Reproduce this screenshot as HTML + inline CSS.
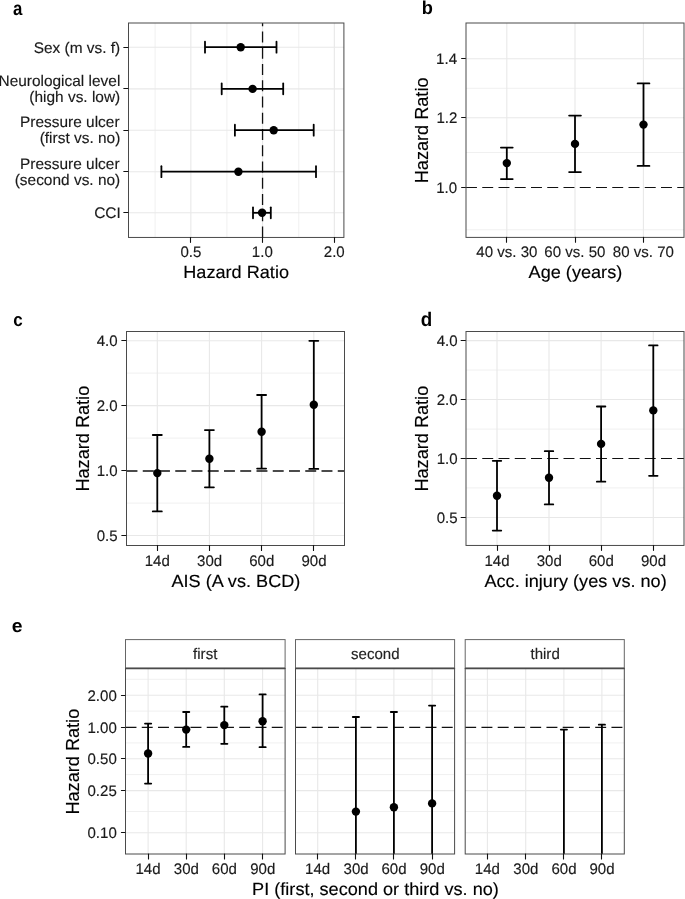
<!DOCTYPE html>
<html><head><meta charset="utf-8"><style>
html,body{margin:0;padding:0;background:#fff;}
svg{display:block;font-family:"Liberation Sans",sans-serif;will-change:transform;}
</style></head><body>
<svg width="685" height="899" viewBox="0 0 685 899">
<rect x="0" y="0" width="685" height="899" fill="#fff"/>
<line x1="155.10" y1="23.00" x2="155.10" y2="237.45" stroke="#f0f0f0" stroke-width="1" stroke-linecap="butt"/>
<line x1="226.90" y1="23.00" x2="226.90" y2="237.45" stroke="#f0f0f0" stroke-width="1" stroke-linecap="butt"/>
<line x1="298.80" y1="23.00" x2="298.80" y2="237.45" stroke="#f0f0f0" stroke-width="1" stroke-linecap="butt"/>
<line x1="190.86" y1="23.00" x2="190.86" y2="237.45" stroke="#e8e8e8" stroke-width="1.1" stroke-linecap="butt"/>
<line x1="262.60" y1="23.00" x2="262.60" y2="237.45" stroke="#e8e8e8" stroke-width="1.1" stroke-linecap="butt"/>
<line x1="334.34" y1="23.00" x2="334.34" y2="237.45" stroke="#e8e8e8" stroke-width="1.1" stroke-linecap="butt"/>
<line x1="128.50" y1="47.20" x2="343.90" y2="47.20" stroke="#e8e8e8" stroke-width="1.1" stroke-linecap="butt"/>
<line x1="128.50" y1="88.90" x2="343.90" y2="88.90" stroke="#e8e8e8" stroke-width="1.1" stroke-linecap="butt"/>
<line x1="128.50" y1="130.20" x2="343.90" y2="130.20" stroke="#e8e8e8" stroke-width="1.1" stroke-linecap="butt"/>
<line x1="128.50" y1="171.70" x2="343.90" y2="171.70" stroke="#e8e8e8" stroke-width="1.1" stroke-linecap="butt"/>
<line x1="128.50" y1="212.80" x2="343.90" y2="212.80" stroke="#e8e8e8" stroke-width="1.1" stroke-linecap="butt"/>
<line x1="262.55" y1="237.45" x2="262.55" y2="23.00" stroke="#111" stroke-width="1.3" stroke-linecap="butt" stroke-dasharray="10.95 5.3"/>
<line x1="205.00" y1="47.20" x2="276.50" y2="47.20" stroke="#000" stroke-width="1.8" stroke-linecap="butt"/>
<line x1="205.00" y1="41.75" x2="205.00" y2="52.65" stroke="#000" stroke-width="1.8" stroke-linecap="round"/>
<line x1="276.50" y1="41.75" x2="276.50" y2="52.65" stroke="#000" stroke-width="1.8" stroke-linecap="round"/>
<circle cx="240.70" cy="47.20" r="4.20" fill="#000"/>
<line x1="221.70" y1="88.90" x2="283.20" y2="88.90" stroke="#000" stroke-width="1.8" stroke-linecap="butt"/>
<line x1="221.70" y1="83.45" x2="221.70" y2="94.35" stroke="#000" stroke-width="1.8" stroke-linecap="round"/>
<line x1="283.20" y1="83.45" x2="283.20" y2="94.35" stroke="#000" stroke-width="1.8" stroke-linecap="round"/>
<circle cx="252.60" cy="88.90" r="4.20" fill="#000"/>
<line x1="234.90" y1="130.20" x2="313.70" y2="130.20" stroke="#000" stroke-width="1.8" stroke-linecap="butt"/>
<line x1="234.90" y1="124.75" x2="234.90" y2="135.65" stroke="#000" stroke-width="1.8" stroke-linecap="round"/>
<line x1="313.70" y1="124.75" x2="313.70" y2="135.65" stroke="#000" stroke-width="1.8" stroke-linecap="round"/>
<circle cx="273.70" cy="130.20" r="4.20" fill="#000"/>
<line x1="161.40" y1="171.70" x2="316.00" y2="171.70" stroke="#000" stroke-width="1.8" stroke-linecap="butt"/>
<line x1="161.40" y1="166.25" x2="161.40" y2="177.15" stroke="#000" stroke-width="1.8" stroke-linecap="round"/>
<line x1="316.00" y1="166.25" x2="316.00" y2="177.15" stroke="#000" stroke-width="1.8" stroke-linecap="round"/>
<circle cx="238.40" cy="171.70" r="4.20" fill="#000"/>
<line x1="253.00" y1="212.80" x2="270.80" y2="212.80" stroke="#000" stroke-width="1.8" stroke-linecap="butt"/>
<line x1="253.00" y1="207.35" x2="253.00" y2="218.25" stroke="#000" stroke-width="1.8" stroke-linecap="round"/>
<line x1="270.80" y1="207.35" x2="270.80" y2="218.25" stroke="#000" stroke-width="1.8" stroke-linecap="round"/>
<circle cx="262.10" cy="212.80" r="4.20" fill="#000"/>
<rect x="128.50" y="23.00" width="215.40" height="214.45" fill="none" stroke="#4a4a4a" stroke-width="1"/>
<line x1="123.80" y1="47.50" x2="127.90" y2="47.50" stroke="#111" stroke-width="1.1" stroke-linecap="round"/>
<line x1="123.80" y1="88.50" x2="127.90" y2="88.50" stroke="#111" stroke-width="1.1" stroke-linecap="round"/>
<line x1="123.80" y1="130.50" x2="127.90" y2="130.50" stroke="#111" stroke-width="1.1" stroke-linecap="round"/>
<line x1="123.80" y1="171.50" x2="127.90" y2="171.50" stroke="#111" stroke-width="1.1" stroke-linecap="round"/>
<line x1="123.80" y1="212.50" x2="127.90" y2="212.50" stroke="#111" stroke-width="1.1" stroke-linecap="round"/>
<line x1="190.50" y1="237.45" x2="190.50" y2="242.35" stroke="#111" stroke-width="1.1" stroke-linecap="round"/>
<line x1="262.50" y1="237.45" x2="262.50" y2="242.35" stroke="#111" stroke-width="1.1" stroke-linecap="round"/>
<line x1="334.50" y1="237.45" x2="334.50" y2="242.35" stroke="#111" stroke-width="1.1" stroke-linecap="round"/>
<text transform="translate(180.39,257.40) scale(0.9850,1) skewX(0.05)" font-size="15.3" fill="#1a1a1a" stroke="#1a1a1a" stroke-width="0.15">0.5</text>
<text transform="translate(251.86,257.40) scale(0.9850,1) skewX(0.05)" font-size="15.3" fill="#1a1a1a" stroke="#1a1a1a" stroke-width="0.15">1.0</text>
<text transform="translate(323.79,257.40) scale(0.9850,1) skewX(0.05)" font-size="15.3" fill="#1a1a1a" stroke="#1a1a1a" stroke-width="0.15">2.0</text>
<text transform="translate(183.25,277.60) scale(1.0300,1) skewX(0.05)" font-size="17.6" fill="#000" stroke="#000" stroke-width="0.15">Hazard Ratio</text>
<text transform="translate(33.64,52.60) scale(1.0100,1) skewX(0.05)" font-size="15.3" fill="#1a1a1a" stroke="#1a1a1a" stroke-width="0.15">Sex (m vs. f)</text>
<text transform="translate(-1.52,85.80) scale(1.0100,1) skewX(0.05)" font-size="15.3" fill="#1a1a1a" stroke="#1a1a1a" stroke-width="0.15">Neurological level</text>
<text transform="translate(29.31,101.60) scale(1.0100,1) skewX(0.05)" font-size="15.3" fill="#1a1a1a" stroke="#1a1a1a" stroke-width="0.15">(high vs. low)</text>
<text transform="translate(20.04,127.00) scale(1.0100,1) skewX(0.05)" font-size="15.3" fill="#1a1a1a" stroke="#1a1a1a" stroke-width="0.15">Pressure ulcer</text>
<text transform="translate(39.66,142.90) scale(1.0100,1) skewX(0.05)" font-size="15.3" fill="#1a1a1a" stroke="#1a1a1a" stroke-width="0.15">(first vs. no)</text>
<text transform="translate(20.04,168.60) scale(1.0100,1) skewX(0.05)" font-size="15.3" fill="#1a1a1a" stroke="#1a1a1a" stroke-width="0.15">Pressure ulcer</text>
<text transform="translate(14.71,184.60) scale(1.0100,1) skewX(0.05)" font-size="15.3" fill="#1a1a1a" stroke="#1a1a1a" stroke-width="0.15">(second vs. no)</text>
<text transform="translate(94.21,218.10) scale(1.0100,1) skewX(0.05)" font-size="15.3" fill="#1a1a1a" stroke="#1a1a1a" stroke-width="0.15">CCI</text>
<text transform="translate(13.09,14.60) scale(0.8600,1) skewX(0.05)" font-size="19.6" font-weight="bold" fill="#000">a</text>
<line x1="466.00" y1="88.30" x2="684.00" y2="88.30" stroke="#f0f0f0" stroke-width="1" stroke-linecap="butt"/>
<line x1="466.00" y1="152.50" x2="684.00" y2="152.50" stroke="#f0f0f0" stroke-width="1" stroke-linecap="butt"/>
<line x1="466.00" y1="229.80" x2="684.00" y2="229.80" stroke="#f0f0f0" stroke-width="1" stroke-linecap="butt"/>
<line x1="466.00" y1="117.72" x2="684.00" y2="117.72" stroke="#e8e8e8" stroke-width="1.1" stroke-linecap="butt"/>
<line x1="466.00" y1="58.80" x2="684.00" y2="58.80" stroke="#e8e8e8" stroke-width="1.1" stroke-linecap="butt"/>
<line x1="506.80" y1="23.00" x2="506.80" y2="237.40" stroke="#e8e8e8" stroke-width="1.1" stroke-linecap="butt"/>
<line x1="575.00" y1="23.00" x2="575.00" y2="237.40" stroke="#e8e8e8" stroke-width="1.1" stroke-linecap="butt"/>
<line x1="643.40" y1="23.00" x2="643.40" y2="237.40" stroke="#e8e8e8" stroke-width="1.1" stroke-linecap="butt"/>
<line x1="466.00" y1="187.50" x2="684.00" y2="187.50" stroke="#111" stroke-width="1.1" stroke-linecap="butt" stroke-dasharray="10.95 5.3"/>
<line x1="506.80" y1="147.60" x2="506.80" y2="179.10" stroke="#000" stroke-width="1.8" stroke-linecap="butt"/>
<line x1="500.90" y1="147.60" x2="512.70" y2="147.60" stroke="#000" stroke-width="1.8" stroke-linecap="round"/>
<line x1="500.90" y1="179.10" x2="512.70" y2="179.10" stroke="#000" stroke-width="1.8" stroke-linecap="round"/>
<circle cx="506.80" cy="163.10" r="4.20" fill="#000"/>
<line x1="575.00" y1="115.60" x2="575.00" y2="172.10" stroke="#000" stroke-width="1.8" stroke-linecap="butt"/>
<line x1="569.10" y1="115.60" x2="580.90" y2="115.60" stroke="#000" stroke-width="1.8" stroke-linecap="round"/>
<line x1="569.10" y1="172.10" x2="580.90" y2="172.10" stroke="#000" stroke-width="1.8" stroke-linecap="round"/>
<circle cx="575.00" cy="143.90" r="4.20" fill="#000"/>
<line x1="643.50" y1="83.40" x2="643.50" y2="165.90" stroke="#000" stroke-width="1.8" stroke-linecap="butt"/>
<line x1="637.60" y1="83.40" x2="649.40" y2="83.40" stroke="#000" stroke-width="1.8" stroke-linecap="round"/>
<line x1="637.60" y1="165.90" x2="649.40" y2="165.90" stroke="#000" stroke-width="1.8" stroke-linecap="round"/>
<circle cx="643.50" cy="124.60" r="4.20" fill="#000"/>
<rect x="466.00" y="23.00" width="218.00" height="214.40" fill="none" stroke="#4a4a4a" stroke-width="1"/>
<line x1="461.60" y1="187.50" x2="465.40" y2="187.50" stroke="#111" stroke-width="1.1" stroke-linecap="round"/>
<line x1="461.60" y1="117.50" x2="465.40" y2="117.50" stroke="#111" stroke-width="1.1" stroke-linecap="round"/>
<line x1="461.60" y1="58.50" x2="465.40" y2="58.50" stroke="#111" stroke-width="1.1" stroke-linecap="round"/>
<line x1="506.50" y1="237.40" x2="506.50" y2="242.30" stroke="#111" stroke-width="1.1" stroke-linecap="round"/>
<line x1="575.50" y1="237.40" x2="575.50" y2="242.30" stroke="#111" stroke-width="1.1" stroke-linecap="round"/>
<line x1="643.50" y1="237.40" x2="643.50" y2="242.30" stroke="#111" stroke-width="1.1" stroke-linecap="round"/>
<text transform="translate(436.25,193.00) scale(0.9850,1) skewX(0.05)" font-size="15.3" fill="#1a1a1a" stroke="#1a1a1a" stroke-width="0.15">1.0</text>
<text transform="translate(436.41,123.32) scale(0.9850,1) skewX(0.05)" font-size="15.3" fill="#1a1a1a" stroke="#1a1a1a" stroke-width="0.15">1.2</text>
<text transform="translate(436.10,64.40) scale(0.9850,1) skewX(0.05)" font-size="15.3" fill="#1a1a1a" stroke="#1a1a1a" stroke-width="0.15">1.4</text>
<text transform="translate(476.36,257.30) scale(0.9850,1) skewX(0.05)" font-size="15.3" fill="#1a1a1a" stroke="#1a1a1a" stroke-width="0.15">40 vs. 30</text>
<text transform="translate(544.37,257.30) scale(0.9850,1) skewX(0.05)" font-size="15.3" fill="#1a1a1a" stroke="#1a1a1a" stroke-width="0.15">60 vs. 50</text>
<text transform="translate(612.81,257.30) scale(0.9850,1) skewX(0.05)" font-size="15.3" fill="#1a1a1a" stroke="#1a1a1a" stroke-width="0.15">80 vs. 70</text>
<text transform="translate(528.58,277.60) scale(1.0300,1) skewX(0.05)" font-size="17.6" fill="#000" stroke="#000" stroke-width="0.15">Age (years)</text>
<text transform="translate(428.00,183.25) rotate(-90) scale(1.0300,1)" font-size="17.6" fill="#000" stroke="#000" stroke-width="0.15">Hazard Ratio</text>
<text transform="translate(421.82,14.40) scale(0.9800,1) skewX(0.05)" font-size="18.6" font-weight="bold" fill="#000">b</text>
<line x1="126.50" y1="373.10" x2="344.50" y2="373.10" stroke="#f0f0f0" stroke-width="1" stroke-linecap="butt"/>
<line x1="126.50" y1="438.10" x2="344.50" y2="438.10" stroke="#f0f0f0" stroke-width="1" stroke-linecap="butt"/>
<line x1="126.50" y1="503.10" x2="344.50" y2="503.10" stroke="#f0f0f0" stroke-width="1" stroke-linecap="butt"/>
<line x1="126.50" y1="535.53" x2="344.50" y2="535.53" stroke="#e8e8e8" stroke-width="1.1" stroke-linecap="butt"/>
<line x1="126.50" y1="405.67" x2="344.50" y2="405.67" stroke="#e8e8e8" stroke-width="1.1" stroke-linecap="butt"/>
<line x1="126.50" y1="340.74" x2="344.50" y2="340.74" stroke="#e8e8e8" stroke-width="1.1" stroke-linecap="butt"/>
<line x1="157.30" y1="331.50" x2="157.30" y2="545.50" stroke="#e8e8e8" stroke-width="1.1" stroke-linecap="butt"/>
<line x1="209.40" y1="331.50" x2="209.40" y2="545.50" stroke="#e8e8e8" stroke-width="1.1" stroke-linecap="butt"/>
<line x1="261.60" y1="331.50" x2="261.60" y2="545.50" stroke="#e8e8e8" stroke-width="1.1" stroke-linecap="butt"/>
<line x1="313.80" y1="331.50" x2="313.80" y2="545.50" stroke="#e8e8e8" stroke-width="1.1" stroke-linecap="butt"/>
<line x1="126.50" y1="471.00" x2="344.50" y2="471.00" stroke="#111" stroke-width="1.5" stroke-linecap="butt" stroke-dasharray="10.95 5.3"/>
<line x1="157.30" y1="435.00" x2="157.30" y2="511.40" stroke="#000" stroke-width="1.8" stroke-linecap="butt"/>
<line x1="152.80" y1="435.00" x2="161.80" y2="435.00" stroke="#000" stroke-width="1.8" stroke-linecap="round"/>
<line x1="152.80" y1="511.40" x2="161.80" y2="511.40" stroke="#000" stroke-width="1.8" stroke-linecap="round"/>
<circle cx="157.30" cy="473.10" r="4.20" fill="#000"/>
<line x1="209.40" y1="430.10" x2="209.40" y2="487.30" stroke="#000" stroke-width="1.8" stroke-linecap="butt"/>
<line x1="204.90" y1="430.10" x2="213.90" y2="430.10" stroke="#000" stroke-width="1.8" stroke-linecap="round"/>
<line x1="204.90" y1="487.30" x2="213.90" y2="487.30" stroke="#000" stroke-width="1.8" stroke-linecap="round"/>
<circle cx="209.40" cy="458.70" r="4.20" fill="#000"/>
<line x1="261.60" y1="395.00" x2="261.60" y2="468.60" stroke="#000" stroke-width="1.8" stroke-linecap="butt"/>
<line x1="257.10" y1="395.00" x2="266.10" y2="395.00" stroke="#000" stroke-width="1.8" stroke-linecap="round"/>
<line x1="257.10" y1="468.60" x2="266.10" y2="468.60" stroke="#000" stroke-width="1.8" stroke-linecap="round"/>
<circle cx="261.60" cy="431.80" r="4.20" fill="#000"/>
<line x1="313.80" y1="340.80" x2="313.80" y2="468.90" stroke="#000" stroke-width="1.8" stroke-linecap="butt"/>
<line x1="309.30" y1="340.80" x2="318.30" y2="340.80" stroke="#000" stroke-width="1.8" stroke-linecap="round"/>
<line x1="309.30" y1="468.90" x2="318.30" y2="468.90" stroke="#000" stroke-width="1.8" stroke-linecap="round"/>
<circle cx="313.80" cy="404.80" r="4.20" fill="#000"/>
<rect x="126.50" y="331.50" width="218.00" height="214.00" fill="none" stroke="#4a4a4a" stroke-width="1"/>
<line x1="121.80" y1="535.50" x2="125.90" y2="535.50" stroke="#111" stroke-width="1.1" stroke-linecap="round"/>
<line x1="121.80" y1="470.50" x2="125.90" y2="470.50" stroke="#111" stroke-width="1.1" stroke-linecap="round"/>
<line x1="121.80" y1="405.50" x2="125.90" y2="405.50" stroke="#111" stroke-width="1.1" stroke-linecap="round"/>
<line x1="121.80" y1="340.50" x2="125.90" y2="340.50" stroke="#111" stroke-width="1.1" stroke-linecap="round"/>
<line x1="157.50" y1="545.50" x2="157.50" y2="550.40" stroke="#111" stroke-width="1.1" stroke-linecap="round"/>
<line x1="209.50" y1="545.50" x2="209.50" y2="550.40" stroke="#111" stroke-width="1.1" stroke-linecap="round"/>
<line x1="261.50" y1="545.50" x2="261.50" y2="550.40" stroke="#111" stroke-width="1.1" stroke-linecap="round"/>
<line x1="313.50" y1="545.50" x2="313.50" y2="550.40" stroke="#111" stroke-width="1.1" stroke-linecap="round"/>
<text transform="translate(96.65,541.03) scale(0.9850,1) skewX(0.05)" font-size="15.3" fill="#1a1a1a" stroke="#1a1a1a" stroke-width="0.15">0.5</text>
<text transform="translate(96.65,476.10) scale(0.9850,1) skewX(0.05)" font-size="15.3" fill="#1a1a1a" stroke="#1a1a1a" stroke-width="0.15">1.0</text>
<text transform="translate(96.65,411.17) scale(0.9850,1) skewX(0.05)" font-size="15.3" fill="#1a1a1a" stroke="#1a1a1a" stroke-width="0.15">2.0</text>
<text transform="translate(96.65,346.24) scale(0.9850,1) skewX(0.05)" font-size="15.3" fill="#1a1a1a" stroke="#1a1a1a" stroke-width="0.15">4.0</text>
<text transform="translate(144.68,565.80) scale(0.9850,1) skewX(0.05)" font-size="15.3" fill="#1a1a1a" stroke="#1a1a1a" stroke-width="0.15">14d</text>
<text transform="translate(197.04,565.80) scale(0.9850,1) skewX(0.05)" font-size="15.3" fill="#1a1a1a" stroke="#1a1a1a" stroke-width="0.15">30d</text>
<text transform="translate(249.17,565.80) scale(0.9850,1) skewX(0.05)" font-size="15.3" fill="#1a1a1a" stroke="#1a1a1a" stroke-width="0.15">60d</text>
<text transform="translate(301.40,565.80) scale(0.9850,1) skewX(0.05)" font-size="15.3" fill="#1a1a1a" stroke="#1a1a1a" stroke-width="0.15">90d</text>
<text transform="translate(171.45,586.60) scale(1.0300,1) skewX(0.05)" font-size="17.6" fill="#000" stroke="#000" stroke-width="0.15">AIS (A vs. BCD)</text>
<text transform="translate(88.50,491.55) rotate(-90) scale(1.0300,1)" font-size="17.6" fill="#000" stroke="#000" stroke-width="0.15">Hazard Ratio</text>
<text transform="translate(13.32,326.00) scale(0.9200,1) skewX(0.05)" font-size="18.5" font-weight="bold" fill="#000">c</text>
<line x1="466.00" y1="370.00" x2="684.00" y2="370.00" stroke="#f0f0f0" stroke-width="1" stroke-linecap="butt"/>
<line x1="466.00" y1="429.10" x2="684.00" y2="429.10" stroke="#f0f0f0" stroke-width="1" stroke-linecap="butt"/>
<line x1="466.00" y1="487.90" x2="684.00" y2="487.90" stroke="#f0f0f0" stroke-width="1" stroke-linecap="butt"/>
<line x1="466.00" y1="517.43" x2="684.00" y2="517.43" stroke="#e8e8e8" stroke-width="1.1" stroke-linecap="butt"/>
<line x1="466.00" y1="399.57" x2="684.00" y2="399.57" stroke="#e8e8e8" stroke-width="1.1" stroke-linecap="butt"/>
<line x1="466.00" y1="340.64" x2="684.00" y2="340.64" stroke="#e8e8e8" stroke-width="1.1" stroke-linecap="butt"/>
<line x1="497.00" y1="331.50" x2="497.00" y2="545.45" stroke="#e8e8e8" stroke-width="1.1" stroke-linecap="butt"/>
<line x1="549.00" y1="331.50" x2="549.00" y2="545.45" stroke="#e8e8e8" stroke-width="1.1" stroke-linecap="butt"/>
<line x1="601.10" y1="331.50" x2="601.10" y2="545.45" stroke="#e8e8e8" stroke-width="1.1" stroke-linecap="butt"/>
<line x1="653.30" y1="331.50" x2="653.30" y2="545.45" stroke="#e8e8e8" stroke-width="1.1" stroke-linecap="butt"/>
<line x1="466.00" y1="458.50" x2="684.00" y2="458.50" stroke="#111" stroke-width="1.1" stroke-linecap="butt" stroke-dasharray="10.95 5.3"/>
<line x1="497.00" y1="460.80" x2="497.00" y2="530.60" stroke="#000" stroke-width="1.8" stroke-linecap="butt"/>
<line x1="492.75" y1="460.80" x2="501.25" y2="460.80" stroke="#000" stroke-width="1.8" stroke-linecap="round"/>
<line x1="492.75" y1="530.60" x2="501.25" y2="530.60" stroke="#000" stroke-width="1.8" stroke-linecap="round"/>
<circle cx="497.00" cy="495.80" r="4.20" fill="#000"/>
<line x1="549.00" y1="451.20" x2="549.00" y2="504.40" stroke="#000" stroke-width="1.8" stroke-linecap="butt"/>
<line x1="544.75" y1="451.20" x2="553.25" y2="451.20" stroke="#000" stroke-width="1.8" stroke-linecap="round"/>
<line x1="544.75" y1="504.40" x2="553.25" y2="504.40" stroke="#000" stroke-width="1.8" stroke-linecap="round"/>
<circle cx="549.00" cy="477.80" r="4.20" fill="#000"/>
<line x1="601.10" y1="406.50" x2="601.10" y2="481.70" stroke="#000" stroke-width="1.8" stroke-linecap="butt"/>
<line x1="596.85" y1="406.50" x2="605.35" y2="406.50" stroke="#000" stroke-width="1.8" stroke-linecap="round"/>
<line x1="596.85" y1="481.70" x2="605.35" y2="481.70" stroke="#000" stroke-width="1.8" stroke-linecap="round"/>
<circle cx="601.10" cy="443.90" r="4.20" fill="#000"/>
<line x1="653.30" y1="345.40" x2="653.30" y2="475.80" stroke="#000" stroke-width="1.8" stroke-linecap="butt"/>
<line x1="649.05" y1="345.40" x2="657.55" y2="345.40" stroke="#000" stroke-width="1.8" stroke-linecap="round"/>
<line x1="649.05" y1="475.80" x2="657.55" y2="475.80" stroke="#000" stroke-width="1.8" stroke-linecap="round"/>
<circle cx="653.30" cy="410.40" r="4.20" fill="#000"/>
<rect x="466.00" y="331.50" width="218.00" height="213.95" fill="none" stroke="#4a4a4a" stroke-width="1"/>
<line x1="461.10" y1="517.50" x2="465.40" y2="517.50" stroke="#111" stroke-width="1.1" stroke-linecap="round"/>
<line x1="461.10" y1="458.50" x2="465.40" y2="458.50" stroke="#111" stroke-width="1.1" stroke-linecap="round"/>
<line x1="461.10" y1="399.50" x2="465.40" y2="399.50" stroke="#111" stroke-width="1.1" stroke-linecap="round"/>
<line x1="461.10" y1="340.50" x2="465.40" y2="340.50" stroke="#111" stroke-width="1.1" stroke-linecap="round"/>
<line x1="497.50" y1="545.45" x2="497.50" y2="550.35" stroke="#111" stroke-width="1.1" stroke-linecap="round"/>
<line x1="549.50" y1="545.45" x2="549.50" y2="550.35" stroke="#111" stroke-width="1.1" stroke-linecap="round"/>
<line x1="601.50" y1="545.45" x2="601.50" y2="550.35" stroke="#111" stroke-width="1.1" stroke-linecap="round"/>
<line x1="653.50" y1="545.45" x2="653.50" y2="550.35" stroke="#111" stroke-width="1.1" stroke-linecap="round"/>
<text transform="translate(436.65,522.93) scale(0.9850,1) skewX(0.05)" font-size="15.3" fill="#1a1a1a" stroke="#1a1a1a" stroke-width="0.15">0.5</text>
<text transform="translate(436.65,464.00) scale(0.9850,1) skewX(0.05)" font-size="15.3" fill="#1a1a1a" stroke="#1a1a1a" stroke-width="0.15">1.0</text>
<text transform="translate(436.65,405.07) scale(0.9850,1) skewX(0.05)" font-size="15.3" fill="#1a1a1a" stroke="#1a1a1a" stroke-width="0.15">2.0</text>
<text transform="translate(436.65,346.14) scale(0.9850,1) skewX(0.05)" font-size="15.3" fill="#1a1a1a" stroke="#1a1a1a" stroke-width="0.15">4.0</text>
<text transform="translate(484.38,565.70) scale(0.9850,1) skewX(0.05)" font-size="15.3" fill="#1a1a1a" stroke="#1a1a1a" stroke-width="0.15">14d</text>
<text transform="translate(536.64,565.70) scale(0.9850,1) skewX(0.05)" font-size="15.3" fill="#1a1a1a" stroke="#1a1a1a" stroke-width="0.15">30d</text>
<text transform="translate(588.67,565.70) scale(0.9850,1) skewX(0.05)" font-size="15.3" fill="#1a1a1a" stroke="#1a1a1a" stroke-width="0.15">60d</text>
<text transform="translate(640.90,565.70) scale(0.9850,1) skewX(0.05)" font-size="15.3" fill="#1a1a1a" stroke="#1a1a1a" stroke-width="0.15">90d</text>
<text transform="translate(484.46,586.50) scale(1.0300,1) skewX(0.05)" font-size="17.6" fill="#000" stroke="#000" stroke-width="0.15">Acc. injury (yes vs. no)</text>
<text transform="translate(428.00,491.55) rotate(-90) scale(1.0300,1)" font-size="17.6" fill="#000" stroke="#000" stroke-width="0.15">Hazard Ratio</text>
<text transform="translate(420.65,326.00) scale(0.9500,1) skewX(0.05)" font-size="19.8" font-weight="bold" fill="#000">d</text>
<line x1="125.50" y1="679.30" x2="285.10" y2="679.30" stroke="#f0f0f0" stroke-width="1" stroke-linecap="butt"/>
<line x1="125.50" y1="711.10" x2="285.10" y2="711.10" stroke="#f0f0f0" stroke-width="1" stroke-linecap="butt"/>
<line x1="125.50" y1="742.90" x2="285.10" y2="742.90" stroke="#f0f0f0" stroke-width="1" stroke-linecap="butt"/>
<line x1="125.50" y1="774.60" x2="285.10" y2="774.60" stroke="#f0f0f0" stroke-width="1" stroke-linecap="butt"/>
<line x1="125.50" y1="811.50" x2="285.10" y2="811.50" stroke="#f0f0f0" stroke-width="1" stroke-linecap="butt"/>
<line x1="125.50" y1="832.69" x2="285.10" y2="832.69" stroke="#e8e8e8" stroke-width="1.1" stroke-linecap="butt"/>
<line x1="125.50" y1="790.63" x2="285.10" y2="790.63" stroke="#e8e8e8" stroke-width="1.1" stroke-linecap="butt"/>
<line x1="125.50" y1="758.82" x2="285.10" y2="758.82" stroke="#e8e8e8" stroke-width="1.1" stroke-linecap="butt"/>
<line x1="125.50" y1="695.18" x2="285.10" y2="695.18" stroke="#e8e8e8" stroke-width="1.1" stroke-linecap="butt"/>
<line x1="148.10" y1="668.45" x2="148.10" y2="854.00" stroke="#e8e8e8" stroke-width="1.1" stroke-linecap="butt"/>
<line x1="186.20" y1="668.45" x2="186.20" y2="854.00" stroke="#e8e8e8" stroke-width="1.1" stroke-linecap="butt"/>
<line x1="224.30" y1="668.45" x2="224.30" y2="854.00" stroke="#e8e8e8" stroke-width="1.1" stroke-linecap="butt"/>
<line x1="262.60" y1="668.45" x2="262.60" y2="854.00" stroke="#e8e8e8" stroke-width="1.1" stroke-linecap="butt"/>
<line x1="125.50" y1="727.35" x2="285.10" y2="727.35" stroke="#111" stroke-width="1.3" stroke-linecap="butt" stroke-dasharray="10.95 5.3"/>
<line x1="295.50" y1="679.30" x2="454.60" y2="679.30" stroke="#f0f0f0" stroke-width="1" stroke-linecap="butt"/>
<line x1="295.50" y1="711.10" x2="454.60" y2="711.10" stroke="#f0f0f0" stroke-width="1" stroke-linecap="butt"/>
<line x1="295.50" y1="742.90" x2="454.60" y2="742.90" stroke="#f0f0f0" stroke-width="1" stroke-linecap="butt"/>
<line x1="295.50" y1="774.60" x2="454.60" y2="774.60" stroke="#f0f0f0" stroke-width="1" stroke-linecap="butt"/>
<line x1="295.50" y1="811.50" x2="454.60" y2="811.50" stroke="#f0f0f0" stroke-width="1" stroke-linecap="butt"/>
<line x1="295.50" y1="832.69" x2="454.60" y2="832.69" stroke="#e8e8e8" stroke-width="1.1" stroke-linecap="butt"/>
<line x1="295.50" y1="790.63" x2="454.60" y2="790.63" stroke="#e8e8e8" stroke-width="1.1" stroke-linecap="butt"/>
<line x1="295.50" y1="758.82" x2="454.60" y2="758.82" stroke="#e8e8e8" stroke-width="1.1" stroke-linecap="butt"/>
<line x1="295.50" y1="695.18" x2="454.60" y2="695.18" stroke="#e8e8e8" stroke-width="1.1" stroke-linecap="butt"/>
<line x1="317.70" y1="668.45" x2="317.70" y2="854.00" stroke="#e8e8e8" stroke-width="1.1" stroke-linecap="butt"/>
<line x1="355.90" y1="668.45" x2="355.90" y2="854.00" stroke="#e8e8e8" stroke-width="1.1" stroke-linecap="butt"/>
<line x1="393.90" y1="668.45" x2="393.90" y2="854.00" stroke="#e8e8e8" stroke-width="1.1" stroke-linecap="butt"/>
<line x1="432.10" y1="668.45" x2="432.10" y2="854.00" stroke="#e8e8e8" stroke-width="1.1" stroke-linecap="butt"/>
<line x1="295.50" y1="727.35" x2="454.60" y2="727.35" stroke="#111" stroke-width="1.3" stroke-linecap="butt" stroke-dasharray="10.95 5.3"/>
<line x1="465.20" y1="679.30" x2="624.30" y2="679.30" stroke="#f0f0f0" stroke-width="1" stroke-linecap="butt"/>
<line x1="465.20" y1="711.10" x2="624.30" y2="711.10" stroke="#f0f0f0" stroke-width="1" stroke-linecap="butt"/>
<line x1="465.20" y1="742.90" x2="624.30" y2="742.90" stroke="#f0f0f0" stroke-width="1" stroke-linecap="butt"/>
<line x1="465.20" y1="774.60" x2="624.30" y2="774.60" stroke="#f0f0f0" stroke-width="1" stroke-linecap="butt"/>
<line x1="465.20" y1="811.50" x2="624.30" y2="811.50" stroke="#f0f0f0" stroke-width="1" stroke-linecap="butt"/>
<line x1="465.20" y1="832.69" x2="624.30" y2="832.69" stroke="#e8e8e8" stroke-width="1.1" stroke-linecap="butt"/>
<line x1="465.20" y1="790.63" x2="624.30" y2="790.63" stroke="#e8e8e8" stroke-width="1.1" stroke-linecap="butt"/>
<line x1="465.20" y1="758.82" x2="624.30" y2="758.82" stroke="#e8e8e8" stroke-width="1.1" stroke-linecap="butt"/>
<line x1="465.20" y1="695.18" x2="624.30" y2="695.18" stroke="#e8e8e8" stroke-width="1.1" stroke-linecap="butt"/>
<line x1="487.40" y1="668.45" x2="487.40" y2="854.00" stroke="#e8e8e8" stroke-width="1.1" stroke-linecap="butt"/>
<line x1="525.70" y1="668.45" x2="525.70" y2="854.00" stroke="#e8e8e8" stroke-width="1.1" stroke-linecap="butt"/>
<line x1="563.90" y1="668.45" x2="563.90" y2="854.00" stroke="#e8e8e8" stroke-width="1.1" stroke-linecap="butt"/>
<line x1="601.90" y1="668.45" x2="601.90" y2="854.00" stroke="#e8e8e8" stroke-width="1.1" stroke-linecap="butt"/>
<line x1="465.20" y1="727.35" x2="624.30" y2="727.35" stroke="#111" stroke-width="1.3" stroke-linecap="butt" stroke-dasharray="10.95 5.3"/>
<line x1="148.10" y1="723.60" x2="148.10" y2="783.60" stroke="#000" stroke-width="1.8" stroke-linecap="butt"/>
<line x1="145.00" y1="723.60" x2="151.20" y2="723.60" stroke="#000" stroke-width="1.8" stroke-linecap="round"/>
<line x1="145.00" y1="783.60" x2="151.20" y2="783.60" stroke="#000" stroke-width="1.8" stroke-linecap="round"/>
<circle cx="148.10" cy="753.50" r="4.20" fill="#000"/>
<line x1="186.20" y1="712.00" x2="186.20" y2="746.90" stroke="#000" stroke-width="1.8" stroke-linecap="butt"/>
<line x1="183.10" y1="712.00" x2="189.30" y2="712.00" stroke="#000" stroke-width="1.8" stroke-linecap="round"/>
<line x1="183.10" y1="746.90" x2="189.30" y2="746.90" stroke="#000" stroke-width="1.8" stroke-linecap="round"/>
<circle cx="186.20" cy="729.60" r="4.20" fill="#000"/>
<line x1="224.30" y1="706.70" x2="224.30" y2="743.80" stroke="#000" stroke-width="1.8" stroke-linecap="butt"/>
<line x1="221.20" y1="706.70" x2="227.40" y2="706.70" stroke="#000" stroke-width="1.8" stroke-linecap="round"/>
<line x1="221.20" y1="743.80" x2="227.40" y2="743.80" stroke="#000" stroke-width="1.8" stroke-linecap="round"/>
<circle cx="224.30" cy="725.10" r="4.20" fill="#000"/>
<line x1="262.60" y1="694.40" x2="262.60" y2="747.20" stroke="#000" stroke-width="1.8" stroke-linecap="butt"/>
<line x1="259.50" y1="694.40" x2="265.70" y2="694.40" stroke="#000" stroke-width="1.8" stroke-linecap="round"/>
<line x1="259.50" y1="747.20" x2="265.70" y2="747.20" stroke="#000" stroke-width="1.8" stroke-linecap="round"/>
<circle cx="262.60" cy="721.20" r="4.20" fill="#000"/>
<line x1="355.90" y1="717.00" x2="355.90" y2="854.00" stroke="#000" stroke-width="1.8" stroke-linecap="butt"/>
<line x1="352.80" y1="717.00" x2="359.00" y2="717.00" stroke="#000" stroke-width="1.8" stroke-linecap="round"/>
<circle cx="355.90" cy="811.60" r="4.20" fill="#000"/>
<line x1="393.90" y1="712.00" x2="393.90" y2="854.00" stroke="#000" stroke-width="1.8" stroke-linecap="butt"/>
<line x1="390.80" y1="712.00" x2="397.00" y2="712.00" stroke="#000" stroke-width="1.8" stroke-linecap="round"/>
<circle cx="393.90" cy="807.20" r="4.20" fill="#000"/>
<line x1="432.10" y1="705.60" x2="432.10" y2="854.00" stroke="#000" stroke-width="1.8" stroke-linecap="butt"/>
<line x1="429.00" y1="705.60" x2="435.20" y2="705.60" stroke="#000" stroke-width="1.8" stroke-linecap="round"/>
<circle cx="432.10" cy="803.40" r="4.20" fill="#000"/>
<line x1="563.90" y1="729.60" x2="563.90" y2="854.00" stroke="#000" stroke-width="1.8" stroke-linecap="butt"/>
<line x1="560.80" y1="729.60" x2="567.00" y2="729.60" stroke="#000" stroke-width="1.8" stroke-linecap="round"/>
<line x1="601.90" y1="724.70" x2="601.90" y2="854.00" stroke="#000" stroke-width="1.8" stroke-linecap="butt"/>
<line x1="598.80" y1="724.70" x2="605.00" y2="724.70" stroke="#000" stroke-width="1.8" stroke-linecap="round"/>
<rect x="125.50" y="639.60" width="159.60" height="28.85" fill="#fff" stroke="#666" stroke-width="1"/>
<rect x="125.50" y="668.45" width="159.60" height="185.55" fill="none" stroke="#4a4a4a" stroke-width="1"/>
<line x1="125.50" y1="668.45" x2="285.10" y2="668.45" stroke="#4a4a4a" stroke-width="1.7" stroke-linecap="butt"/>
<text transform="translate(193.09,658.80) scale(0.9850,1) skewX(0.05)" font-size="15.3" fill="#222" stroke="#222" stroke-width="0.15">first</text>
<line x1="148.50" y1="854.00" x2="148.50" y2="858.90" stroke="#111" stroke-width="1.1" stroke-linecap="round"/>
<line x1="186.50" y1="854.00" x2="186.50" y2="858.90" stroke="#111" stroke-width="1.1" stroke-linecap="round"/>
<line x1="224.50" y1="854.00" x2="224.50" y2="858.90" stroke="#111" stroke-width="1.1" stroke-linecap="round"/>
<line x1="262.50" y1="854.00" x2="262.50" y2="858.90" stroke="#111" stroke-width="1.1" stroke-linecap="round"/>
<text transform="translate(135.48,874.40) scale(0.9850,1) skewX(0.05)" font-size="15.3" fill="#1a1a1a" stroke="#1a1a1a" stroke-width="0.15">14d</text>
<text transform="translate(173.84,874.40) scale(0.9850,1) skewX(0.05)" font-size="15.3" fill="#1a1a1a" stroke="#1a1a1a" stroke-width="0.15">30d</text>
<text transform="translate(211.87,874.40) scale(0.9850,1) skewX(0.05)" font-size="15.3" fill="#1a1a1a" stroke="#1a1a1a" stroke-width="0.15">60d</text>
<text transform="translate(250.20,874.40) scale(0.9850,1) skewX(0.05)" font-size="15.3" fill="#1a1a1a" stroke="#1a1a1a" stroke-width="0.15">90d</text>
<rect x="295.50" y="639.60" width="159.10" height="28.85" fill="#fff" stroke="#666" stroke-width="1"/>
<rect x="295.50" y="668.45" width="159.10" height="185.55" fill="none" stroke="#4a4a4a" stroke-width="1"/>
<line x1="295.50" y1="668.45" x2="454.60" y2="668.45" stroke="#4a4a4a" stroke-width="1.7" stroke-linecap="butt"/>
<text transform="translate(351.01,658.80) scale(0.9850,1) skewX(0.05)" font-size="15.3" fill="#222" stroke="#222" stroke-width="0.15">second</text>
<line x1="317.50" y1="854.00" x2="317.50" y2="858.90" stroke="#111" stroke-width="1.1" stroke-linecap="round"/>
<line x1="355.50" y1="854.00" x2="355.50" y2="858.90" stroke="#111" stroke-width="1.1" stroke-linecap="round"/>
<line x1="393.50" y1="854.00" x2="393.50" y2="858.90" stroke="#111" stroke-width="1.1" stroke-linecap="round"/>
<line x1="432.50" y1="854.00" x2="432.50" y2="858.90" stroke="#111" stroke-width="1.1" stroke-linecap="round"/>
<text transform="translate(305.08,874.40) scale(0.9850,1) skewX(0.05)" font-size="15.3" fill="#1a1a1a" stroke="#1a1a1a" stroke-width="0.15">14d</text>
<text transform="translate(343.54,874.40) scale(0.9850,1) skewX(0.05)" font-size="15.3" fill="#1a1a1a" stroke="#1a1a1a" stroke-width="0.15">30d</text>
<text transform="translate(381.47,874.40) scale(0.9850,1) skewX(0.05)" font-size="15.3" fill="#1a1a1a" stroke="#1a1a1a" stroke-width="0.15">60d</text>
<text transform="translate(419.70,874.40) scale(0.9850,1) skewX(0.05)" font-size="15.3" fill="#1a1a1a" stroke="#1a1a1a" stroke-width="0.15">90d</text>
<rect x="465.20" y="639.60" width="159.10" height="28.85" fill="#fff" stroke="#666" stroke-width="1"/>
<rect x="465.20" y="668.45" width="159.10" height="185.55" fill="none" stroke="#4a4a4a" stroke-width="1"/>
<line x1="465.20" y1="668.45" x2="624.30" y2="668.45" stroke="#4a4a4a" stroke-width="1.7" stroke-linecap="butt"/>
<text transform="translate(530.47,658.80) scale(0.9850,1) skewX(0.05)" font-size="15.3" fill="#222" stroke="#222" stroke-width="0.15">third</text>
<line x1="487.50" y1="854.00" x2="487.50" y2="858.90" stroke="#111" stroke-width="1.1" stroke-linecap="round"/>
<line x1="525.50" y1="854.00" x2="525.50" y2="858.90" stroke="#111" stroke-width="1.1" stroke-linecap="round"/>
<line x1="563.50" y1="854.00" x2="563.50" y2="858.90" stroke="#111" stroke-width="1.1" stroke-linecap="round"/>
<line x1="601.50" y1="854.00" x2="601.50" y2="858.90" stroke="#111" stroke-width="1.1" stroke-linecap="round"/>
<text transform="translate(474.78,874.40) scale(0.9850,1) skewX(0.05)" font-size="15.3" fill="#1a1a1a" stroke="#1a1a1a" stroke-width="0.15">14d</text>
<text transform="translate(513.34,874.40) scale(0.9850,1) skewX(0.05)" font-size="15.3" fill="#1a1a1a" stroke="#1a1a1a" stroke-width="0.15">30d</text>
<text transform="translate(551.47,874.40) scale(0.9850,1) skewX(0.05)" font-size="15.3" fill="#1a1a1a" stroke="#1a1a1a" stroke-width="0.15">60d</text>
<text transform="translate(589.50,874.40) scale(0.9850,1) skewX(0.05)" font-size="15.3" fill="#1a1a1a" stroke="#1a1a1a" stroke-width="0.15">90d</text>
<line x1="121.40" y1="832.50" x2="124.90" y2="832.50" stroke="#111" stroke-width="1.1" stroke-linecap="round"/>
<text transform="translate(87.49,838.19) scale(0.9850,1) skewX(0.05)" font-size="15.3" fill="#1a1a1a" stroke="#1a1a1a" stroke-width="0.15">0.10</text>
<line x1="121.40" y1="790.50" x2="124.90" y2="790.50" stroke="#111" stroke-width="1.1" stroke-linecap="round"/>
<text transform="translate(87.49,796.13) scale(0.9850,1) skewX(0.05)" font-size="15.3" fill="#1a1a1a" stroke="#1a1a1a" stroke-width="0.15">0.25</text>
<line x1="121.40" y1="758.50" x2="124.90" y2="758.50" stroke="#111" stroke-width="1.1" stroke-linecap="round"/>
<text transform="translate(87.49,764.32) scale(0.9850,1) skewX(0.05)" font-size="15.3" fill="#1a1a1a" stroke="#1a1a1a" stroke-width="0.15">0.50</text>
<line x1="121.40" y1="727.50" x2="124.90" y2="727.50" stroke="#111" stroke-width="1.1" stroke-linecap="round"/>
<text transform="translate(87.49,732.50) scale(0.9850,1) skewX(0.05)" font-size="15.3" fill="#1a1a1a" stroke="#1a1a1a" stroke-width="0.15">1.00</text>
<line x1="121.40" y1="695.50" x2="124.90" y2="695.50" stroke="#111" stroke-width="1.1" stroke-linecap="round"/>
<text transform="translate(87.49,700.68) scale(0.9850,1) skewX(0.05)" font-size="15.3" fill="#1a1a1a" stroke="#1a1a1a" stroke-width="0.15">2.00</text>
<text transform="translate(252.11,894.80) scale(1.0300,1) skewX(0.05)" font-size="17.6" fill="#000" stroke="#000" stroke-width="0.15">PI (first, second or third vs. no)</text>
<text transform="translate(78.80,814.55) rotate(-90) scale(1.0300,1)" font-size="17.6" fill="#000" stroke="#000" stroke-width="0.15">Hazard Ratio</text>
<text transform="translate(11.82,632.40) scale(1.0500,1) skewX(0.05)" font-size="18.5" font-weight="bold" fill="#000">e</text>
</svg>
</body></html>
